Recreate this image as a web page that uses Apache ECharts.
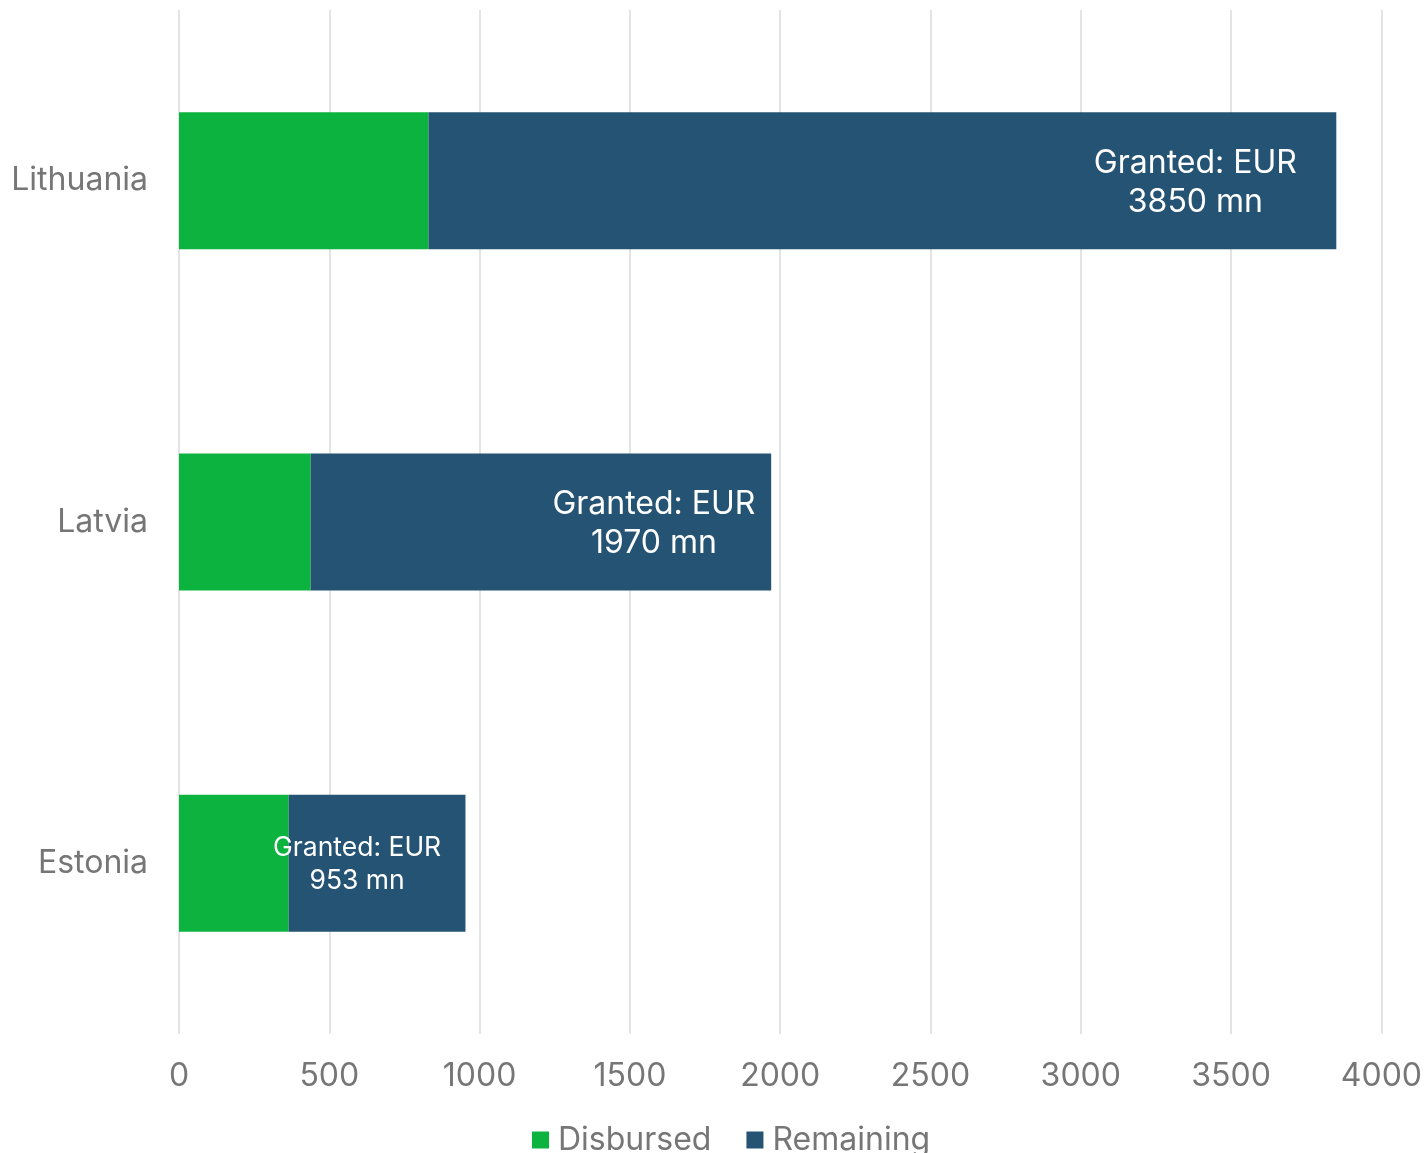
<!DOCTYPE html>
<html>
<head>
<meta charset="utf-8">
<script src="https://cdn.jsdelivr.net/npm/echarts@6/dist/echarts.min.js"></script>
<style>
html,body{margin:0;padding:0;background:#fff;}
#chart{width:1425px;height:1153px;}
</style>
</head>
<body>
<div id="chart"></div>
<script>
var categories = ['Lithuania', 'Latvia', 'Estonia'];
var disbursed = [830, 438, 365];
var granted = [3850, 1970, 953];
var remaining = granted.map(function (g, i) { return g - disbursed[i]; });
var labelTexts = ['Granted: EUR\n3850 mn', 'Granted: EUR\n1970 mn', 'Granted: EUR\n953 mn'];

// label styling (per bar) — presentation only
var labelOffsets = [[313, 2], [113, 2], [-20, 1]];
var labelSizes = [32, 32, 26.5];
var labelLineHeights = [39, 39, 33];

var remainingData = remaining.map(function (v, i) {
  return {
    value: v,
    label: {
      show: true,
      position: 'inside',
      formatter: labelTexts[i],
      offset: labelOffsets[i],
      fontSize: labelSizes[i],
      lineHeight: labelLineHeights[i],
      align: 'center'
    }
  };
});

var chart = echarts.init(document.getElementById('chart'), null, { renderer: 'canvas' });
var FONT = 'Inter, "Noto Sans", sans-serif';
chart.setOption({
  animation: false,
  textStyle: { fontFamily: FONT },
  grid: { left: 179, right: 43, top: 10, bottom: 119, containLabel: false },
  legend: {
    bottom: -8,
    left: 527,
    itemWidth: 17,
    itemHeight: 17,
    itemGap: 35,
    icon: 'rect',
    textStyle: { fontSize: 32, color: '#767676', fontFamily: FONT, padding: [0, 0, 0, 4] },
    data: ['Disbursed', 'Remaining']
  },
  xAxis: {
    type: 'value',
    min: 0,
    max: 4000,
    interval: 500,
    axisLine: { show: false },
    axisTick: { show: false },
    axisLabel: { fontSize: 32, color: '#767676', margin: 26, fontFamily: FONT, formatter: function (v) { return String(v); } },
    splitLine: { show: true, lineStyle: { color: '#e4e4e4', width: 2 } }
  },
  yAxis: {
    type: 'category',
    inverse: true,
    data: categories,
    axisLine: { show: false },
    axisTick: { show: false },
    axisLabel: { fontSize: 32, color: '#767676', margin: 31, fontFamily: FONT }
  },
  series: [
    {
      name: 'Disbursed',
      type: 'bar',
      stack: 'total',
      barWidth: 137,
      data: disbursed,
      itemStyle: { color: '#0DB33F' }
    },
    {
      name: 'Remaining',
      type: 'bar',
      stack: 'total',
      barWidth: 137,
      data: remainingData,
      itemStyle: { color: '#255374' },
      label: { color: '#ffffff', fontFamily: FONT }
    }
  ]
});
</script>
</body>
</html>
